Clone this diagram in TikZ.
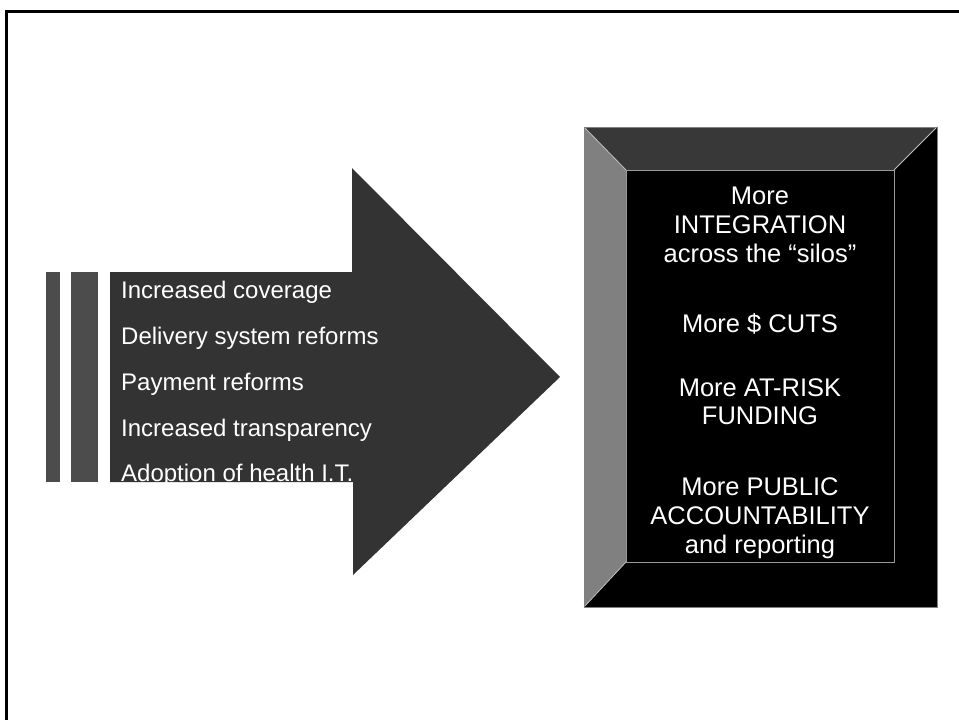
\documentclass[tikz,border=0pt]{standalone}
\usepackage{fontspec}
\setmainfont{Liberation Sans}
\begin{document}
\begin{tikzpicture}[x=1pt,y=-1pt,
  listtext/.style={text=white, font=\fontsize{24}{28}\selectfont, anchor=base west, inner sep=0pt},
  boxtext/.style={text=white, font=\fontsize{25.5}{29}\selectfont, anchor=base, inner sep=0pt},
  barfill/.style={fill=black!70},
  arrowfill/.style={fill=black!80},
  bevellight/.style={fill=black!50},
  beveldark/.style={fill=black!78},
  edgeline/.style={draw=black!25, line width=0.8pt},
]
\useasboundingbox (0,0) rectangle (959,720);
\fill[white] (0,0) rectangle (959,720);

% page frame (top and left edges)
\draw[line width=3pt] (6.5,720) -- (6.5,11) -- (959,11);

% two thin bars ahead of the arrow
\fill[barfill] (46,272) rectangle (60,482);
\fill[barfill] (71,272) rectangle (98,482);

% block arrow
\fill[arrowfill] (110,272) -- (352,272) -- (352,168) -- (560,377)
  -- (353,575) -- (353,482) -- (110,482) -- cycle;

% list carried by the arrow
\node[listtext] (l1) at (121,298) {Increased coverage};
\node[listtext] (l2) at (121,344) {Delivery system reforms};
\node[listtext] (l3) at (121,390) {Payment reforms};
\node[listtext] (l4) at (121,436) {Increased transparency};
\node[listtext] (l5) at (121,481) {Adoption of health I.T.};

% bevelled box
\fill[black] (584,127) rectangle (937,607);
\fill[beveldark] (584,127) -- (937,127) -- (894,170) -- (626,170) -- cycle;
\fill[bevellight] (584,127) -- (626,170) -- (626,562) -- (584,607) -- cycle;
\draw[edgeline] (584,127) -- (626,170);
\draw[edgeline] (937,127) -- (894,170);
\draw[edgeline] (584,607) -- (626,562);
\draw[draw=black!40, line width=0.6pt] (626,170) rectangle (894,562);
\draw[draw=black!50, line width=0.6pt] (584,127) rectangle (937,607);

% box text
\node[boxtext] (b1) at (760,204) {More};
\node[boxtext] (b2) at (760,233) {INTEGRATION};
\node[boxtext] (b3) at (760,262) {across the “silos”};
\node[boxtext] (b4) at (760,332) {More \$ CUTS};
\node[boxtext] (b5) at (760,396) {More AT-RISK};
\node[boxtext] (b6) at (760,424) {FUNDING};
\node[boxtext] (b7) at (760,495) {More PUBLIC};
\node[boxtext] (b8) at (760,524) {ACCOUNTABILITY};
\node[boxtext] (b9) at (760,553) {and reporting};
\end{tikzpicture}
\end{document}
